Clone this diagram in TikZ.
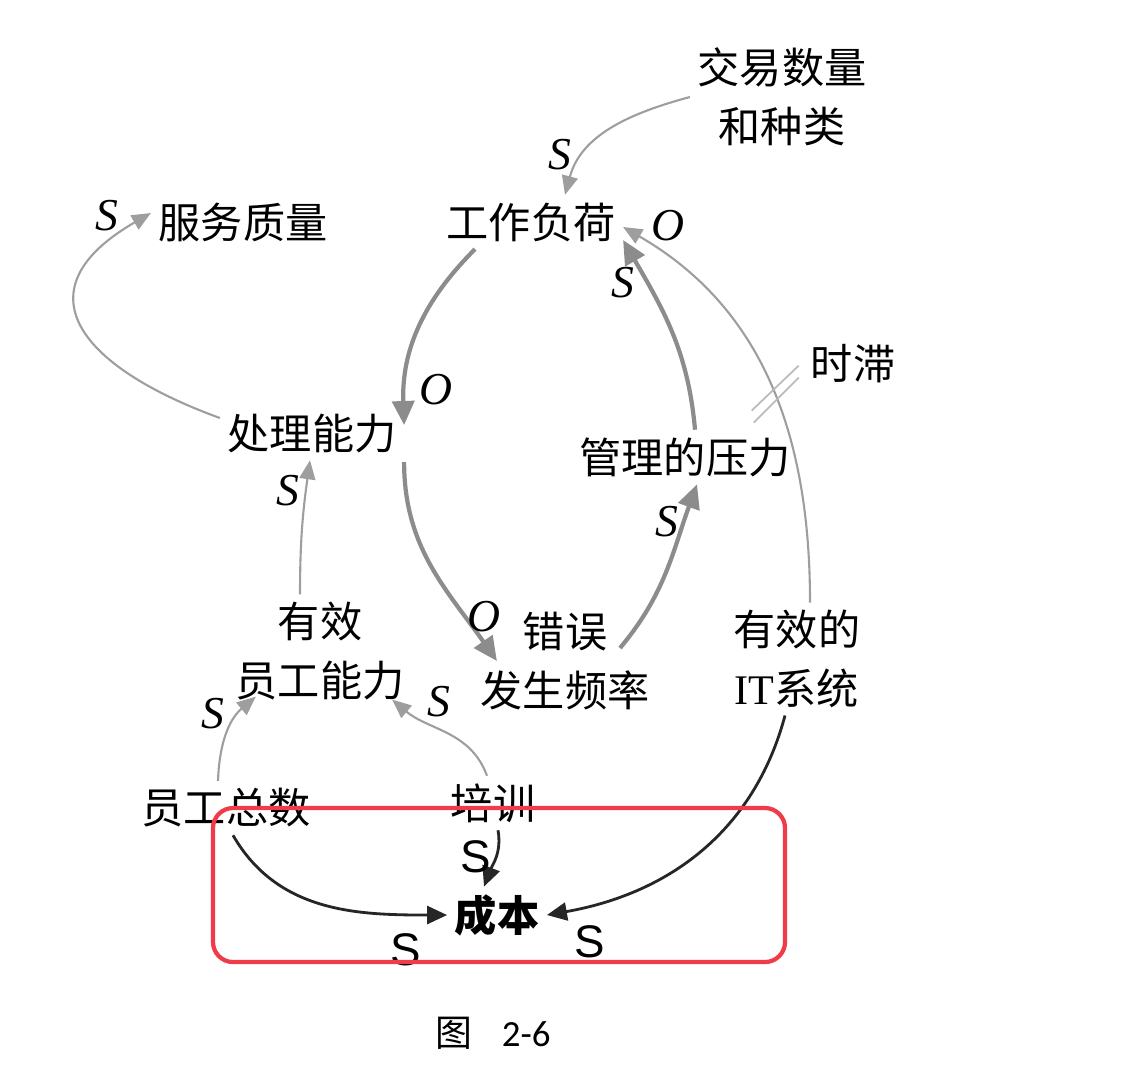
\documentclass[tikz,border=0pt]{standalone}
\usepackage{fontspec}
\newfontfamily\cjk{Noto Sans CJK SC}
\newfontfamily\latin{Liberation Serif}
\newfontfamily\sans{Liberation Sans}
\newfontfamily\capfont{Carlito}
\usetikzlibrary{arrows.meta}
\definecolor{lnk}{gray}{0.55}
\definecolor{lnkl}{gray}{0.62}
\definecolor{boxred}{HTML}{F03C48}
\begin{document}
\begin{tikzpicture}[
  var/.style={font=\cjk\fontsize{12}{16.7}\selectfont,align=center,inner sep=2pt},
  lbl/.style={font=\latin\itshape\fontsize{13}{13}\selectfont,inner sep=0pt},
  lbs/.style={font=\sans\fontsize{13}{13}\selectfont,inner sep=0pt},
  thk/.style={draw=lnk,line width=1.2pt,-{Triangle[length=2.4mm,width=2.2mm]}},
  thn/.style={draw=lnkl,line width=0.6pt,-{Triangle[length=1.9mm,width=1.6mm]}},
  blk/.style={draw=black!85,line width=0.8pt,-{Triangle[length=2mm,width=1.8mm]}}]
  \useasboundingbox (0,0) rectangle (11.3,-10.7);
  \node[var] (deal) at (7.82,-0.97){交易数量\\和种类};
  \node[var] (load) at (5.31,-2.22){工作负荷};
  \node[var] (qual) at (2.43,-2.22){服务质量};
  \node[var] (proc) at (3.12,-4.33){处理能力};
  \node[var] (pres) at (6.85,-4.57){管理的压力};
  \node[var] (lag) at (8.53,-3.64){时滞};
  \node[var] (eff) at (3.20,-6.51){有效\\员工能力};
  \node[var] (err) at (5.65,-6.61){错误\\发生频率};
  \node[var] (its) at (7.97,-6.59){有效的\\{\latin IT}系统};
  \node[var] (staff) at (2.26,-8.08){员工总数};
  \node[var] (train) at (4.93,-8.03){培训};
  \node[var,font=\cjk\bfseries\fontsize{12}{14}\selectfont] (cost) at (4.97,-9.15){成本};
  \node[font=\cjk\fontsize{10.5}{12}\selectfont] (fig) at (4.93,-10.33){图\hspace{0.8em}{\capfont 2-6}};

  \draw[thn] (deal.west) to[out=195,in=75] ([xshift=3.4mm]load.north);
  \draw[thk] ([xshift=-5.6mm]load.south) to[out=225,in=92] ([yshift=0.8mm]proc.east);
  \draw[thn] ([yshift=1.5mm]proc.west) to[out=160,in=210,looseness=1.8] ([yshift=0.9mm]qual.west);
  \draw[thk] ([yshift=-2.9mm]proc.east) to[out=270,in=125] ([xshift=2.4mm]err.west);
  \draw[thk] ([shift={(0.55,0.13)}]err.center) to[out=50,in=250] ([xshift=1.2mm]pres.south);
  \draw[thk] ([xshift=1mm]pres.north) to[out=95,in=300] ([yshift=-1.8mm]load.east);
  \draw[thn] ([xshift=1.3mm]its.north) to[out=90,in=330] coordinate[pos=0.47] (dl) ([yshift=-0.5mm]load.east);
  \draw[lnkl!70,line width=0.5pt] ([shift={(-0.23,-0.15)}]dl) -- ([shift={(0.24,0.30)}]dl)
    ([shift={(-0.21,-0.27)}]dl) -- ([shift={(0.24,0.18)}]dl);
  \draw[thn] ([xshift=-2mm]eff.north) to[out=90,in=262] ([xshift=-0.2mm]proc.south);
  \draw[thn] ([xshift=-0.8mm]staff.north) to[out=88,in=220] ([shift={(0.28,0.11)}]eff.south west);
  \draw[thn] ([xshift=-0.6mm]train.north) to[out=110,in=320] ([shift={(-0.2,0.08)}]eff.south east);
  \draw[blk] ([xshift=0.7mm]staff.south) to[out=-60,in=180] (cost.west);
  \draw[blk] ([xshift=0.5mm]train.south) to[out=-80,in=69] ([xshift=-1.3mm]cost.north);
  \draw[blk] ([xshift=-1.2mm]its.south) to[out=-105,in=10] (cost.east);

  \node[lbl] (s1) at (5.60,-1.55){S};
  \node[lbl] (o2) at (4.36,-3.90){O};
  \node[lbl] (s3) at (1.07,-2.16){S};
  \node[lbl] (o4) at (4.84,-6.17){O};
  \node[lbl] (s5) at (6.67,-5.22){S};
  \node[lbl] (s6) at (6.23,-2.83){S};
  \node[lbl] (o7) at (6.68,-2.26){O};
  \node[lbl] (s8) at (2.88,-4.91){S};
  \node[lbl] (s9) at (2.13,-7.14){S};
  \node[lbl] (s10) at (4.39,-7.02){S};
  \node[lbs] (s11) at (4.06,-9.50){S};
  \node[lbs] (s12) at (4.76,-8.57){S};
  \node[lbs] (s13) at (5.90,-9.42){S};

  \draw[boxred,line width=1.2pt,rounded corners=2mm] (2.13,-8.08) rectangle (7.85,-9.62);
\end{tikzpicture}
\end{document}
